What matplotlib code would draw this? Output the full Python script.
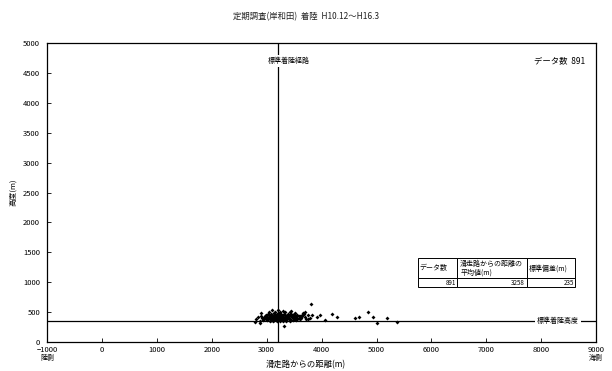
import matplotlib
matplotlib.use("Agg")
import matplotlib.pyplot as plt

plt.rcParams['font.family'] = ['Noto Sans CJK JP', 'DejaVu Sans']

title = "定期調査(岸和田)  着陸  H10.12〜H16.3"
x_label = "滑走路からの距離(m)"
y_label = "高度(m)"
left_side = "陸側"
right_side = "海側"
path_label = "標準着陸経路"
alt_label = "標準着陸高度"
count_label = "データ数  891"

path_x = 3200      # standard approach path position (m)
path_alt = 360     # standard approach altitude (m)

table_header = ["データ数", "滑走路からの距離の\n平均値(m)", "標準偏差(m)"]
table_values = ["891", "3258", "235"]

# observed aircraft positions: distance (m), altitude (m)
dist = [
    3020, 3080, 3140, 3190, 3250, 3310, 3380, 3440, 3500, 3560,
    2990, 3040, 3100, 3160, 3220, 3270, 3330, 3390, 3450, 3520, 3600, 3650,
    2960, 3010, 3070, 3120, 3180, 3240, 3290, 3350, 3410, 3470, 3530, 3590, 3640, 3700,
    2950, 3000, 3060, 3110, 3170, 3230, 3280, 3340, 3400, 3460, 3520, 3580, 3630,
    2980, 3030, 3090, 3150, 3200, 3260, 3320, 3370, 3430, 3490, 3550, 3610,
    3010, 3070, 3130, 3190, 3250, 3300, 3360, 3420, 3480, 3540,
    3060, 3120, 3180, 3240, 3300, 3360, 3430,
    3050, 3150, 3240, 3330, 3420, 3520,
    3100, 3200, 3300, 3450,
    3110, 3150, 3210, 3260, 3290, 3330, 3370, 3230, 3180, 3280, 3340, 3140, 3220, 3310,
    3050, 3110, 3170, 3230, 3290, 3350, 3410, 3470, 3130, 3190, 3250, 3310, 3370,
    2900, 2920, 2880, 3760, 3780, 3720, 3660, 2850, 2940,
    3810, 3825, 3914, 3974, 4063, 4182, 4272, 4600, 4690, 4839, 4928, 5018, 5197, 5376,
    2780, 2870, 2900, 2930, 2810, 3318, 3700, 3750, 3680,
]
alt = [
    472, 465, 478, 470, 468, 475, 462, 470, 466, 458,
    448, 452, 445, 455, 450, 447, 452, 444, 449, 455, 440, 446,
    430, 425, 433, 428, 435, 430, 426, 432, 428, 434, 425, 430, 436, 422,
    408, 412, 405, 410, 414, 407, 411, 404, 409, 413, 406, 402, 410,
    392, 388, 395, 390, 386, 393, 389, 391, 385, 394, 388, 380,
    372, 368, 375, 370, 366, 373, 369, 371, 365, 362,
    352, 348, 355, 350, 346, 353, 349,
    500, 505, 498, 502, 495, 490,
    528, 535, 525, 520,
    420, 440, 415, 435, 425, 418, 440, 460, 400, 380, 395, 420, 430, 410,
    418, 398, 440, 458, 378, 420, 438, 398, 460, 402, 488, 380, 415,
    440, 400, 360, 450, 410, 390, 480, 420, 370,
    635, 451, 423, 451, 368, 468, 423, 396, 423, 507, 423, 312, 401, 329,
    340, 312, 479, 396, 380, 268, 500, 380, 470,
]

fig = plt.figure(figsize=(6.12, 3.71), dpi=100)
ax = fig.add_axes([0.077, 0.078, 0.897, 0.806])

ax.axvline(path_x, color='black', lw=0.9, zorder=1)
ax.axhline(path_alt, color='black', lw=0.9, zorder=1)
ax.scatter(dist, alt, s=4, marker='D', color='black', linewidths=0, zorder=3)

ax.set_xlim(-1000, 9000)
ax.set_ylim(0, 5000)
ax.set_xticks(range(-1000, 9001, 1000))
ax.set_yticks(range(0, 5001, 500))
ax.tick_params(direction='in', length=3, width=0.6, labelsize=5.5, pad=3)
ax.tick_params(axis='y', pad=5)
for s in ax.spines.values():
    s.set_linewidth(0.9)

ax.set_ylabel(y_label, fontsize=5.5, labelpad=4)
fig.text(0.5, 0.006, x_label, ha='center', va='bottom', fontsize=6)
fig.text(0.5, 0.955, title, ha='center', va='center', fontsize=6, color='#222222')

fig.text(0.077, 0.025, left_side, ha='center', va='bottom', fontsize=5)
fig.text(0.974, 0.025, right_side, ha='center', va='bottom', fontsize=5)

ax.text(path_x + 200, 4700, path_label, ha='center', va='center', fontsize=5,
        bbox=dict(facecolor='white', edgecolor='none', pad=1.5), zorder=4)
ax.text(0.98, 0.94, count_label, transform=ax.transAxes, ha='right',
        va='center', fontsize=6)
ax.text(8300, path_alt, alt_label, ha='center', va='center', fontsize=5,
        bbox=dict(facecolor='white', edgecolor='none', pad=1.5), zorder=4)

tbl = ax.table(cellText=[table_values], colLabels=table_header,
               bbox=[0.676, 0.184, 0.286, 0.097], colWidths=[0.25, 0.44, 0.31],
               zorder=5)
tbl.auto_set_font_size(False)
for (r, c), cell in tbl.get_celld().items():
    cell.set_linewidth(0.7)
    cell.set_facecolor('white')
    if r == 0:
        cell.set_height(0.068)
        cell.get_text().set_fontsize(5)
        cell.get_text().set_ha('left')
        cell.PAD = 0.04
    else:
        cell.set_height(0.029)
        cell.get_text().set_fontsize(4.5)
        cell.get_text().set_ha('right')
        cell.PAD = 0.03

fig.savefig("out.png", dpi=100)
